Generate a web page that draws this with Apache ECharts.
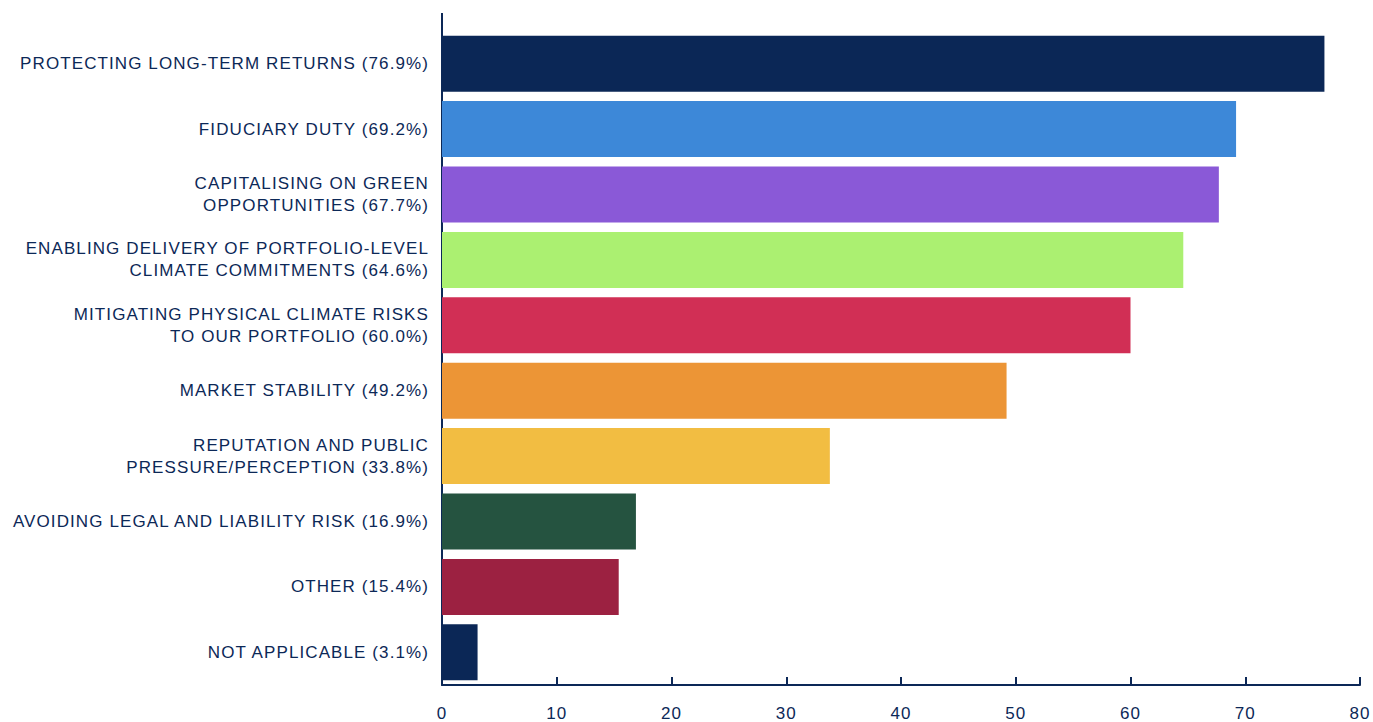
<!DOCTYPE html>
<html>
<head>
<meta charset="utf-8">
<script src="https://cdn.jsdelivr.net/npm/echarts@6/dist/echarts.min.js"></script>
<style>
  html, body { margin: 0; padding: 0; background: #ffffff; }
  #chart { width: 1373px; height: 722px; }
  #chart text { letter-spacing: 1.1px; }
</style>
</head>
<body>
<div id="chart"></div>
<script>
// Motivations, share of respondents (%)
const categories = [
  'PROTECTING LONG-TERM RETURNS (76.9%)',
  'FIDUCIARY DUTY (69.2%)',
  'CAPITALISING ON GREEN\nOPPORTUNITIES (67.7%)',
  'ENABLING DELIVERY OF PORTFOLIO-LEVEL\nCLIMATE COMMITMENTS (64.6%)',
  'MITIGATING PHYSICAL CLIMATE RISKS\nTO OUR PORTFOLIO (60.0%)',
  'MARKET STABILITY (49.2%)',
  'REPUTATION AND PUBLIC\nPRESSURE/PERCEPTION (33.8%)',
  'AVOIDING LEGAL AND LIABILITY RISK (16.9%)',
  'OTHER (15.4%)',
  'NOT APPLICABLE (3.1%)'
];
const values = [76.9, 69.2, 67.7, 64.6, 60.0, 49.2, 33.8, 16.9, 15.4, 3.1];
const barColors = [
  '#0b2756', '#3d88d8', '#8a59d7', '#abf071', '#d12f55',
  '#ec9536', '#f2bd42', '#255340', '#9c2141', '#0b2756'
];

const NAVY = '#0c2857';
const GRID_LEFT = 442;
const GRID_TOP = 31;
const FONT = '"Liberation Sans", Arial, sans-serif';

const chart = echarts.init(document.getElementById('chart'), null, { renderer: 'svg' });

chart.setOption({
  animation: false,
  backgroundColor: '#ffffff',
  grid: { left: GRID_LEFT, right: 13, top: GRID_TOP, bottom: 36, containLabel: false },
  xAxis: {
    type: 'value',
    min: 0,
    max: 80,
    interval: 10,
    splitLine: { show: false },
    axisLine: { show: true, lineStyle: { color: NAVY, width: 2 } },
    axisTick: { show: true, inside: true, length: 8, lineStyle: { color: NAVY, width: 2 } },
    axisLabel: { color: NAVY, fontSize: 17, fontFamily: FONT, margin: 20 }
  },
  yAxis: {
    type: 'category',
    data: categories,
    inverse: true,
    axisLine: { show: true, lineStyle: { color: NAVY, width: 2 } },
    axisTick: { show: false },
    axisLabel: {
      color: NAVY, fontSize: 17, fontFamily: FONT,
      lineHeight: 22, margin: 13, align: 'right'
    }
  },
  graphic: [{
    // vertical axis continues a little above the first band
    type: 'line',
    shape: { x1: GRID_LEFT, y1: 13, x2: GRID_LEFT, y2: GRID_TOP + 1 },
    style: { stroke: NAVY, lineWidth: 2 },
    silent: true
  }],
  series: [{
    type: 'bar',
    barWidth: 56,
    data: values.map((v, i) => ({ value: v, itemStyle: { color: barColors[i] } })),
    label: { show: false }
  }]
});
</script>
</body>
</html>
